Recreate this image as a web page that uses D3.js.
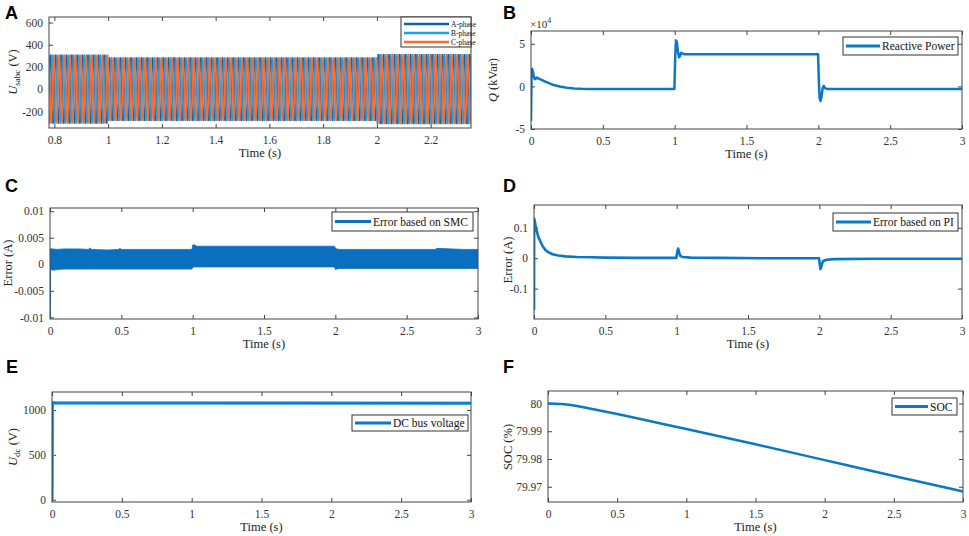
<!DOCTYPE html>
<html>
<head>
<meta charset="utf-8">
<script src="https://cdn.jsdelivr.net/npm/d3@7"></script>
<style>
	body { margin: 0; background: #fff; }
	svg { display: block; font-family: 'Liberation Serif', 'Times New Roman', serif; }
</style>
</head>
<body>
<div id="chart"></div>
<script>
// ---------- data ----------

// A: three-phase voltage, one sampled cycle (50 Hz grid) scaled by the peak of each interval
const cycleShape = [0, 0.5, 0.866, 1, 0.866, 0.5, 0, -0.5, -0.866, -1, -0.866, -0.5];
const gridPeriod = 0.02;
const uStepTimes = [1.0, 2.0];
const uPeaks = [311, 287, 315];
const phaseNames = ['A-phase', 'B-phase', 'C-phase'];
const phaseShift = [0, 8, 4];
const phaseColors = ['#0a62a8', '#1e9fe6', '#ff6a2e'];
const uTicksX = [0.8, 1, 1.2, 1.4, 1.6, 1.8, 2, 2.2];
const uTicksY = [-200, 0, 200, 400, 600];

// B: reactive power (x10^4 kVar)
const qTime = [0, 0.004, 0.008, 0.012, 0.018, 0.026, 0.034, 0.042, 0.05, 0.07,
	0.1, 0.15, 0.2, 0.25, 0.3, 0.35, 0.4, 0.5,
	0.998, 1.004, 1.009, 1.015, 1.022, 1.03, 1.038, 1.046, 1.055, 1.07, 1.1, 1.5,
	1.998, 2.004, 2.009, 2.015, 2.022, 2.03, 2.038, 2.046, 2.06, 2.1, 2.5, 3];
const qVal = [-4.1, 1.9, 2.05, 1.8, 1.3, 0.85, 0.9, 1.05, 0.95, 0.8,
	0.55, 0.2, -0.02, -0.15, -0.24, -0.29, -0.31, -0.32,
	-0.3, 3.5, 5.4, 5.2, 4.2, 3.4, 3.6, 3.95, 3.85, 3.78, 3.78, 3.78,
	3.78, 0.5, -1.4, -1.7, -1.2, -0.2, 0.05, -0.2, -0.3, -0.3, -0.3, -0.3];
const qTicksY = [-5, 0, 5];

// C: error band with SMC (upper / lower edge of the chattering)
const smcTime = [0, 0.002, 0.004, 0.02, 0.05, 0.1, 0.2, 0.27, 0.28, 0.29, 0.4, 0.48, 0.49, 0.5,
	0.7, 0.9, 0.995, 1.0, 1.01, 1.03, 1.2, 1.5, 1.8, 1.995, 2.0, 2.01, 2.03,
	2.3, 2.6, 2.7, 2.71, 2.9, 3];
const smcHigh = [0.003, 0.003, 0.0029, 0.0029, 0.0028, 0.0029, 0.0029, 0.0028, 0.0031, 0.0028, 0.0027, 0.0028, 0.003, 0.0028,
	0.0028, 0.0028, 0.0028, 0.0036, 0.0037, 0.0034, 0.0034, 0.0034, 0.0034, 0.0034, 0.003, 0.0029, 0.0028,
	0.0028, 0.0028, 0.0028, 0.003, 0.0028, 0.0028];
const smcLow = [-0.0102, -0.0102, -0.001, -0.0011, -0.001, -0.0009, -0.0009, -0.0009, -0.0009, -0.0009, -0.0009, -0.0009, -0.0009, -0.0009,
	-0.0009, -0.0009, -0.0009, -0.0006, -0.0005, -0.0005, -0.0005, -0.0005, -0.0005, -0.0005, -0.001, -0.0009, -0.0008,
	-0.0008, -0.0008, -0.0008, -0.0008, -0.0008, -0.0008];
const smcTicksY = [-0.01, -0.005, 0, 0.005, 0.01];

// D: error with PI
const piTime = [0, 0.001, 0.004, 0.01, 0.02, 0.03, 0.045, 0.06, 0.08, 0.1,
	0.13, 0.17, 0.22, 0.3, 0.4, 0.5, 0.7, 0.9,
	0.998, 1.004, 1.01, 1.016, 1.025, 1.04, 1.1, 1.3, 1.6,
	1.998, 2.003, 2.008, 2.014, 2.025, 2.05, 2.1, 2.4, 2.7, 3];
const piVal = [-0.17, 0.13, 0.125, 0.11, 0.088, 0.07, 0.055, 0.04, 0.027, 0.02,
	0.013, 0.009, 0.006, 0.004, 0.003, 0.002, 0.001, 0.001,
	0.001, 0.02, 0.032, 0.022, 0.008, 0.004, 0.002, 0.001, 0,
	0, -0.02, -0.036, -0.028, -0.01, -0.005, -0.003, -0.002, -0.002, -0.002];
const piTicksY = [-0.1, 0, 0.1];

// E: DC bus voltage (V)
const udcTime = [0, 0.003, 0.006, 0.02, 3];
const udcVal = [0, 1060, 1082, 1078, 1075];
const udcTicksY = [0, 500, 1000];

// F: state of charge (%)
const socTime = [0, 0.1, 0.2, 0.3, 0.5, 0.75, 1, 1.5, 2, 2.5, 3];
const socVal = [80, 79.9998, 79.9992, 79.9982, 79.9962, 79.9935, 79.9908, 79.9853, 79.9796, 79.9739, 79.9683];
const socTicksY = [79.97, 79.98, 79.99, 80];

const timeTicks = [0, 0.5, 1, 1.5, 2, 2.5, 3];
const lineBlue = '#0b78c6';

// ---------- drawing ----------
const width = 969;
const height = 536;
const svg = d3.select('#chart').append('svg')
	.attr('width', width)
	.attr('height', height)
	.attr('viewBox', `0 0 ${width} ${height}`);

const fmt = (d) => String(+d.toFixed(4));

function makePanel(p) {
	const g = svg.append('g');
	const x = d3.scaleLinear().domain(p.xDomain).range([p.left, p.right]);
	const y = d3.scaleLinear().domain(p.yDomain).range([p.bottom, p.top]);

	g.append('g')
		.attr('transform', `translate(0,${p.bottom})`)
		.call(d3.axisBottom(x).tickValues(p.xTicks).tickSizeInner(-4).tickSizeOuter(0).tickPadding(8).tickFormat(fmt));
	g.append('g')
		.attr('transform', `translate(0,${p.top})`)
		.call(d3.axisTop(x).tickValues(p.xTicks).tickSizeInner(-4).tickSizeOuter(0).tickFormat(''));
	g.append('g')
		.attr('transform', `translate(${p.left},0)`)
		.call(d3.axisLeft(y).tickValues(p.yTicks).tickSizeInner(-4).tickSizeOuter(0).tickPadding(6).tickFormat(fmt));
	g.append('g')
		.attr('transform', `translate(${p.right},0)`)
		.call(d3.axisRight(y).tickValues(p.yTicks).tickSizeInner(-4).tickSizeOuter(0).tickFormat(''));

	g.selectAll('.domain').remove();
	g.selectAll('.tick line').attr('stroke', '#444');
	g.selectAll('.tick text')
		.attr('fill', '#333')
		.style('font-family', "'Liberation Serif', serif")
		.style('font-size', '11.5px');

	const id = 'clip' + p.name;
	svg.append('clipPath').attr('id', id)
		.append('rect')
		.attr('x', p.left).attr('y', p.top)
		.attr('width', p.right - p.left).attr('height', p.bottom - p.top);
	const plot = g.append('g').attr('clip-path', `url(#${id})`);

	// x label
	g.append('text')
		.attr('x', (p.left + p.right) / 2)
		.attr('y', p.bottom + 29)
		.attr('text-anchor', 'middle')
		.attr('fill', '#222')
		.style('font-size', '12.5px')
		.text('Time (s)');

	// panel letter
	svg.append('text')
		.attr('x', p.letterX)
		.attr('y', p.letterY)
		.style('font-family', "'Liberation Sans', Arial, sans-serif")
		.style('font-weight', 'bold')
		.style('font-size', '18px')
		.text(p.name);

	return { g, plot, x, y };
}

function frameBox(g, p) {
	g.append('rect')
		.attr('x', p.left).attr('y', p.top)
		.attr('width', p.right - p.left).attr('height', p.bottom - p.top)
		.attr('fill', 'none')
		.attr('stroke', '#444')
		.attr('stroke-width', 1);
}

function yLabel(g, cx, cy, parts) {
	const t = g.append('text')
		.attr('transform', `translate(${cx},${cy}) rotate(-90)`)
		.attr('text-anchor', 'middle')
		.attr('fill', '#222')
		.style('font-size', '12.5px');
	parts.forEach((d) => {
		const s = t.append('tspan').text(d.text);
		if (d.italic) s.style('font-style', 'italic');
		if (d.sub) s.attr('dy', 3).style('font-size', '9px');
		if (d.after) s.attr('dy', -3);
	});
}

function legend(g, b) {
	g.append('rect')
		.attr('x', b.x).attr('y', b.y)
		.attr('width', b.w).attr('height', b.h)
		.attr('fill', '#fff')
		.attr('stroke', '#333')
		.attr('stroke-width', 1);
	b.items.forEach((d, i) => {
		const cy = b.y + b.rowTop + i * b.rowGap;
		g.append('line')
			.attr('x1', b.x + 3).attr('x2', b.x + 3 + b.lineLen)
			.attr('y1', cy).attr('y2', cy)
			.attr('stroke', d.color)
			.attr('stroke-width', b.lineWidth);
		g.append('text')
			.attr('x', b.x + 5 + b.lineLen)
			.attr('y', cy)
			.attr('dy', '0.35em')
			.attr('fill', '#111')
			.style('font-size', b.fontSize + 'px')
			.text(d.label);
	});
}

// ----- A -----
{
	const p = { name: 'A', left: 49, right: 471, top: 17, bottom: 128,
		xDomain: [0.78, 2.35], yDomain: [-350, 650], xTicks: uTicksX, yTicks: uTicksY,
		letterX: 5, letterY: 19 };
	const { g, plot, x, y } = makePanel(p);
	const peak = d3.scaleThreshold().domain(uStepTimes).range(uPeaks);
	const n = cycleShape.length;
	const first = Math.floor(p.xDomain[0] / gridPeriod);
	const last = Math.ceil(p.xDomain[1] / gridPeriod);
	phaseShift.forEach((shift, k) => {
		const pts = [];
		for (let c = first; c <= last; c++) {
			for (let i = 0; i < n; i++) {
				const t = c * gridPeriod + (i * gridPeriod) / n;
				pts.push([t, peak(t) * cycleShape[(i + shift) % n]]);
			}
		}
		plot.append('path')
			.datum(pts)
			.attr('d', d3.line().x((d) => x(d[0])).y((d) => y(d[1])))
			.attr('fill', 'none')
			.attr('stroke', phaseColors[k])
			.attr('stroke-width', 1.5);
	});
	frameBox(g, p);
	yLabel(g, 17, 72, [{ text: 'U', italic: true }, { text: 'sabc', sub: true }, { text: ' (V)', after: true }]);
	legend(g, { x: 401, y: 17, w: 70, h: 30, rowTop: 7, rowGap: 9, lineLen: 45, lineWidth: 2.5, fontSize: 7.5,
		items: phaseNames.map((d, i) => ({ label: d, color: phaseColors[i] })) });
}

// ----- B -----
{
	const p = { name: 'B', left: 531, right: 962, top: 31, bottom: 129,
		xDomain: [0, 3], yDomain: [-5, 6.5], xTicks: timeTicks, yTicks: qTicksY,
		letterX: 503, letterY: 19 };
	const { g, plot, x, y } = makePanel(p);
	plot.append('path')
		.datum(qTime.map((t, i) => [t, qVal[i]]))
		.attr('d', d3.line().x((d) => x(d[0])).y((d) => y(d[1])))
		.attr('fill', 'none')
		.attr('stroke', lineBlue)
		.attr('stroke-width', 2.5)
		.attr('stroke-linejoin', 'round');
	frameBox(g, p);
	const m = g.append('text').attr('x', 530).attr('y', 28).attr('fill', '#333').style('font-size', '11px');
	m.append('tspan').text('×10');
	m.append('tspan').attr('dy', -5).style('font-size', '8px').text('4');
	yLabel(g, 497, 80, [{ text: 'Q', italic: true }, { text: ' (kVar)' }]);
	legend(g, { x: 843, y: 37, w: 115, h: 18, rowTop: 9, rowGap: 0, lineLen: 34, lineWidth: 3, fontSize: 11.5,
		items: [{ label: 'Reactive Power', color: lineBlue }] });
}

// ----- C -----
{
	const p = { name: 'C', left: 50, right: 478, top: 208, bottom: 319,
		xDomain: [0, 3], yDomain: [-0.0103, 0.0106], xTicks: timeTicks, yTicks: smcTicksY,
		letterX: 5, letterY: 192 };
	const { g, plot, x, y } = makePanel(p);
	plot.append('path')
		.datum(smcTime.map((t, i) => [t, smcLow[i], smcHigh[i]]))
		.attr('d', d3.area().x((d) => x(d[0])).y0((d) => y(d[1])).y1((d) => y(d[2])))
		.attr('fill', '#0a6fbf')
		.attr('stroke', '#0a6fbf')
		.attr('stroke-width', 0.8);
	frameBox(g, p);
	yLabel(g, 12, 263, [{ text: 'Error (A)' }]);
	legend(g, { x: 332, y: 212, w: 141, h: 19, rowTop: 9.5, rowGap: 0, lineLen: 36, lineWidth: 3, fontSize: 11.5,
		items: [{ label: 'Error based on SMC', color: '#0a6fbf' }] });
}

// ----- D -----
{
	const p = { name: 'D', left: 534, right: 962, top: 205, bottom: 319,
		xDomain: [0, 3], yDomain: [-0.2, 0.175], xTicks: timeTicks, yTicks: piTicksY,
		letterX: 503, letterY: 192 };
	const { g, plot, x, y } = makePanel(p);
	plot.append('path')
		.datum(piTime.map((t, i) => [t, piVal[i]]))
		.attr('d', d3.line().x((d) => x(d[0])).y((d) => y(d[1])))
		.attr('fill', 'none')
		.attr('stroke', lineBlue)
		.attr('stroke-width', 2.6)
		.attr('stroke-linejoin', 'round');
	frameBox(g, p);
	yLabel(g, 512, 260, [{ text: 'Error (A)' }]);
	legend(g, { x: 833, y: 213, w: 125, h: 18, rowTop: 9, rowGap: 0, lineLen: 35, lineWidth: 3, fontSize: 11.5,
		items: [{ label: 'Error based on PI', color: lineBlue }] });
}

// ----- E -----
{
	const p = { name: 'E', left: 52, right: 471, top: 392, bottom: 502,
		xDomain: [0, 3], yDomain: [-25, 1200], xTicks: timeTicks, yTicks: udcTicksY,
		letterX: 6, letterY: 373 };
	const { g, plot, x, y } = makePanel(p);
	plot.append('path')
		.datum(udcTime.map((t, i) => [t, udcVal[i]]))
		.attr('d', d3.line().x((d) => x(d[0])).y((d) => y(d[1])))
		.attr('fill', 'none')
		.attr('stroke', '#3aa6e8')
		.attr('stroke-width', 3.5);
	plot.append('path')
		.datum(udcTime.map((t, i) => [t, udcVal[i]]))
		.attr('d', d3.line().x((d) => x(d[0])).y((d) => y(d[1])))
		.attr('fill', 'none')
		.attr('stroke', lineBlue)
		.attr('stroke-width', 1.8);
	frameBox(g, p);
	yLabel(g, 17, 447, [{ text: 'U', italic: true }, { text: 'dc', sub: true }, { text: ' (V)', after: true }]);
	legend(g, { x: 352, y: 415, w: 116, h: 16, rowTop: 8, rowGap: 0, lineLen: 36, lineWidth: 3, fontSize: 11.5,
		items: [{ label: 'DC bus voltage', color: lineBlue }] });
}

// ----- F -----
{
	const p = { name: 'F', left: 548, right: 963, top: 391, bottom: 502,
		xDomain: [0, 3], yDomain: [79.9645, 80.0045], xTicks: timeTicks, yTicks: socTicksY,
		letterX: 503, letterY: 373 };
	const { g, plot, x, y } = makePanel(p);
	plot.append('path')
		.datum(socTime.map((t, i) => [t, socVal[i]]))
		.attr('d', d3.line().curve(d3.curveMonotoneX).x((d) => x(d[0])).y((d) => y(d[1])))
		.attr('fill', 'none')
		.attr('stroke', lineBlue)
		.attr('stroke-width', 2.5);
	frameBox(g, p);
	yLabel(g, 512, 447, [{ text: 'SOC (%)' }]);
	legend(g, { x: 892, y: 398, w: 65, h: 17, rowTop: 8.5, rowGap: 0, lineLen: 33, lineWidth: 3, fontSize: 11.5,
		items: [{ label: 'SOC', color: lineBlue }] });
}
</script>
</body>
</html>
